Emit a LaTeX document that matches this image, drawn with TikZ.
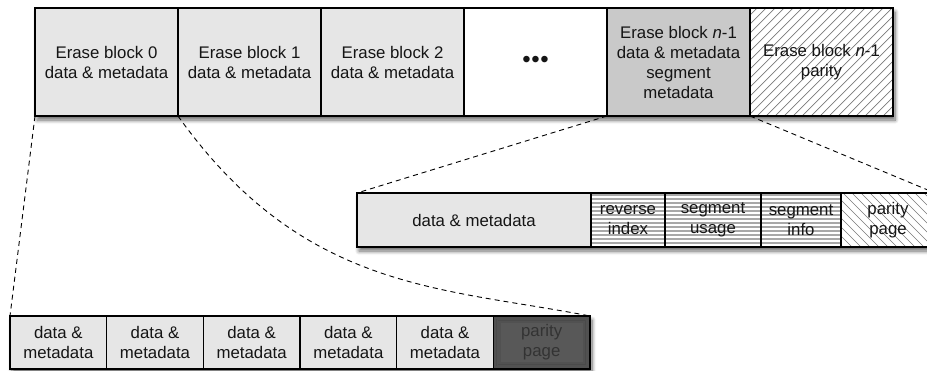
\documentclass[tikz,border=0pt]{standalone}
\usepackage{fontspec}
\setmainfont{Liberation Sans}
\usetikzlibrary{shadows.blur,calc}

\definecolor{cellgray}{HTML}{E6E6E6}
\definecolor{midgray}{HTML}{C9C9C9}
\definecolor{darkcell}{HTML}{585858}
\definecolor{hatchgray}{HTML}{7A7A7A}
\definecolor{stripegray}{HTML}{A8A8A8}
\definecolor{inktext}{HTML}{151515}

\begin{document}
\begin{tikzpicture}[x=1pt,y=-1pt,
  rowbg/.style={fill=white, blur shadow={shadow xshift=2pt, shadow yshift=-4pt,
      shadow blur radius=4pt, shadow blur steps=8, shadow opacity=60}},
  cell/.style={draw=black, line width=1.1pt, inner sep=0pt, outer sep=0pt,
      align=center, text=inktext, font=\fontsize{16.8}{20}\selectfont},
  topcell/.style={cell, minimum width=143pt, minimum height=108pt},
  midcell/.style={cell, minimum height=54pt},
  lowcell/.style={cell, minimum width=96.67pt, minimum height=53pt, fill=cellgray},
  hatchline/.style={hatchgray, line width=0.7pt},
  zoomline/.style={draw=black, line width=0.9pt, dash pattern=on 5pt off 4pt}
]
\useasboundingbox (0,0) rectangle (927,370);

% row backgrounds carrying the soft drop shadows
\fill[rowbg] (35,8) rectangle (893,116);
\fill[rowbg] (357,193) rectangle (935,247);
\fill[rowbg] (10,316) rectangle (590,369);

% horizontal stripes behind the three index cells of the middle row
\begin{scope}
  \clip (591,193) rectangle (841,247);
  \foreach \yy in {195,199,...,247}
    \draw[stripegray, line width=1.8pt] (591,\yy) -- (841,\yy);
\end{scope}
% diagonal hatching of the two parity cells
\begin{scope}
  \clip (749,8) rectangle (893,116);
  \foreach \xx in {640,649,...,900}
    \draw[hatchline] (\xx,116) -- ++(108,-108);
\end{scope}
\begin{scope}
  \clip (841,193) rectangle (935,247);
  \foreach \xx in {780,789,...,940}
    \draw[hatchline] (\xx,193) -- ++(54,54);
\end{scope}

% top row: the erase blocks of one segment
\node[topcell, fill=cellgray] (t0) at (106.5,62) {Erase block 0\\data \& metadata};
\node[topcell, fill=cellgray] (t1) at (249.5,62) {Erase block 1\\data \& metadata};
\node[topcell, fill=cellgray] (t2) at (392.5,62) {Erase block 2\\data \& metadata};
\node[topcell, fill=white] (t3) at (535.5,62) {\fontsize{24}{24}\selectfont •\kern0.6pt•\kern0.6pt•};
\node[topcell, fill=midgray] (t4) at (678.5,62)
  {Erase block \textit{n}-1\\data \& metadata\\segment\\metadata};
\node[topcell] (t5) at (821.5,62) {Erase block \textit{n}-1\\parity};

% middle row: layout of the last erase block
\node[midcell, minimum width=234pt, fill=cellgray] (m0) at (474,220) {data \& metadata};
\node[midcell, minimum width=74pt] (m1) at (628,220) {reverse\\index};
\node[midcell, minimum width=96pt] (m2) at (713,220) {segment\\usage};
\node[midcell, minimum width=80pt] (m3) at (801,220) {segment\\info};
\node[midcell, minimum width=94pt] (m4) at (888,220) {parity\\page};

% bottom row: pages of one erase block
\node[lowcell] (b0) at (58.33,342.5) {data \&\\metadata};
\node[lowcell] (b1) at (155,342.5) {data \&\\metadata};
\node[lowcell] (b2) at (251.67,342.5) {data \&\\metadata};
\node[lowcell] (b3) at (348.33,342.5) {data \&\\metadata};
\node[lowcell] (b4) at (445,342.5) {data \&\\metadata};
\node[lowcell, fill=darkcell, text=black!80] (b5) at (541.67,342.5) {parity\\page};
% darker rim inside the parity page
\foreach \k in {1,...,5}
  \draw[black, opacity=0.08, line width=1.6pt]
    ($(b5.north west)+(\k*1.3,\k*1.3)$) rectangle ($(b5.south east)-(\k*1.3,\k*1.3)$);
\draw[black, line width=1.1pt] (b5.north west) rectangle (b5.south east);

% dashed zoom connectors
\draw[zoomline] (t0.south west) -- (b0.north west);
\draw[zoomline] (t1.south west) .. controls ($(t1.south west)+(125,175)$)
  and ($(b5.north east)+(-150,-29)$) .. (b5.north east);
\draw[zoomline] (t4.south west) -- (m0.north west);
\draw[zoomline] (t4.south east) -- (m4.north east);
\end{tikzpicture}
\end{document}
